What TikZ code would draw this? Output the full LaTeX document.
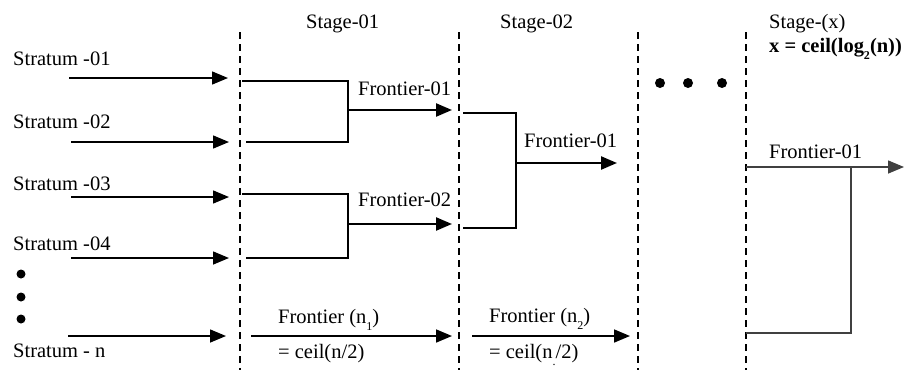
\documentclass[tikz,border=0pt]{standalone}
\usepackage{fontspec}
\setmainfont{Liberation Serif}
\usetikzlibrary{arrows.meta}
% small lowered subscript for text labels
\newcommand\lowsub[1]{\raisebox{-0.35em}{\fontsize{12}{12}\selectfont #1}}
\begin{document}
\begin{tikzpicture}[x=1pt,y=-1pt,
  lbl/.style={anchor=base west, inner sep=0pt, font=\fontsize{20.5}{24}\selectfont},
  stagesep/.style={line width=2.3pt, dash pattern=on 7pt off 5pt},
  tip/.style={-{Triangle[length=16pt,width=13pt]}},
  feed/.style={line width=1.5pt, tip},
  merge/.style={line width=2.3pt, tip},
  link/.style={line width=1.4pt},
  finallink/.style={line width=1.5pt, black!75},
  dot/.style={circle, fill=black, inner sep=0pt, minimum size=9pt}]
\useasboundingbox (0,0) rectangle (908,370);

% stage separators
\foreach \n/\x in {1/240, 2/459, 3/638, 4/746} {
  \coordinate (sep\n t) at (\x,32);
  \coordinate (sep\n b) at (\x,370);
  \draw[stagesep] (sep\n t) -- (sep\n b);
}

% stage headings
\node[lbl] (stg1) at (306,28) {Stage-01};
\node[lbl] (stg2) at (500,28) {Stage-02};
\node[lbl] (stgx) at (769,28) {Stage-(x)};
\node[lbl] (stgxf) at (769,52) {\bfseries x = ceil(log\lowsub{\bfseries 2}(n))};

% input strata
\node[lbl] (st1) at (13,65) {Stratum -01};
\node[lbl] (st2) at (13,128) {Stratum -02};
\node[lbl] (st3) at (13,190) {Stratum -03};
\node[lbl] (st4) at (13,250) {Stratum -04};
\node[lbl] (stn) at (13,357) {Stratum - n};

\coordinate (in1s) at (69,78);  \coordinate (in1e) at (228,78);
\coordinate (in2s) at (71,142); \coordinate (in2e) at (229,142);
\coordinate (in3s) at (71,197); \coordinate (in3e) at (229,197);
\coordinate (in4s) at (71,258); \coordinate (in4e) at (229,258);
\coordinate (inns) at (68,336); \coordinate (inne) at (226,336);
\draw[feed] (in1s) -- (in1e);
\draw[feed] (in2s) -- (in2e);
\draw[feed] (in3s) -- (in3e);
\draw[feed] (in4s) -- (in4e);
\draw[feed] (inns) -- (inne);

\node[dot] (vd1) at (21,274) {};
\node[dot] (vd2) at (21,297) {};
\node[dot] (vd3) at (21,319) {};

% stage 1: pairwise merges
\coordinate (m1a) at (242,81);  \coordinate (m1b) at (246,142);
\coordinate (m1j) at (348,110); \coordinate (m1o) at (452,110);
\draw[link] (m1a) -| (m1j |- m1b) -- (m1b);
\draw[merge] (m1j) -- (m1o);
\node[lbl] (f11) at (358,95) {Frontier-01};

\coordinate (m2a) at (242,194); \coordinate (m2b) at (246,258);
\coordinate (m2j) at (348,224); \coordinate (m2o) at (452,224);
\draw[link] (m2a) -| (m2j |- m2b) -- (m2b);
\draw[merge] (m2j) -- (m2o);
\node[lbl] (f12) at (358,206) {Frontier-02};

\coordinate (n1s) at (251,336); \coordinate (n1e) at (452,336);
\draw[feed, line width=1.7pt] (n1s) -- (n1e);
\node[lbl] (fn1) at (278,323) {Frontier (n\lowsub{1})};
\node[lbl] (fn1c) at (278,358) {= ceil(n/2)};

% stage 2
\coordinate (m3a) at (463,113); \coordinate (m3b) at (463,228);
\coordinate (m3j) at (516,163); \coordinate (m3o) at (617,163);
\draw[link] (m3a) -| (m3j |- m3b) -- (m3b);
\draw[merge] (m3j) -- (m3o);
\node[lbl] (f21) at (524,147) {Frontier-01};

\coordinate (n2s) at (472,336); \coordinate (n2e) at (630,336);
\draw[feed, line width=1.7pt] (n2s) -- (n2e);
\node[lbl] (fn2) at (489,322) {Frontier (n\lowsub{2})};
\node[lbl] (fn2c) at (489,358) {= ceil(n\lowsub{.}/2)};

% intermediate stages
\node[dot, minimum size=10pt] (hd1) at (660,83) {};
\node[dot, minimum size=10pt] (hd2) at (688,83) {};
\node[dot, minimum size=10pt] (hd3) at (722,83) {};

% final stage
\node[lbl] (fx1) at (769,158) {Frontier-01};
\coordinate (fxa) at (746,167); \coordinate (fxo) at (904,167);
\coordinate (fxj) at (851,167); \coordinate (fxb) at (746,333);
\draw[finallink, tip] (fxa) -- (fxo);
\draw[finallink] (fxj) |- (fxb);
\end{tikzpicture}
\end{document}
